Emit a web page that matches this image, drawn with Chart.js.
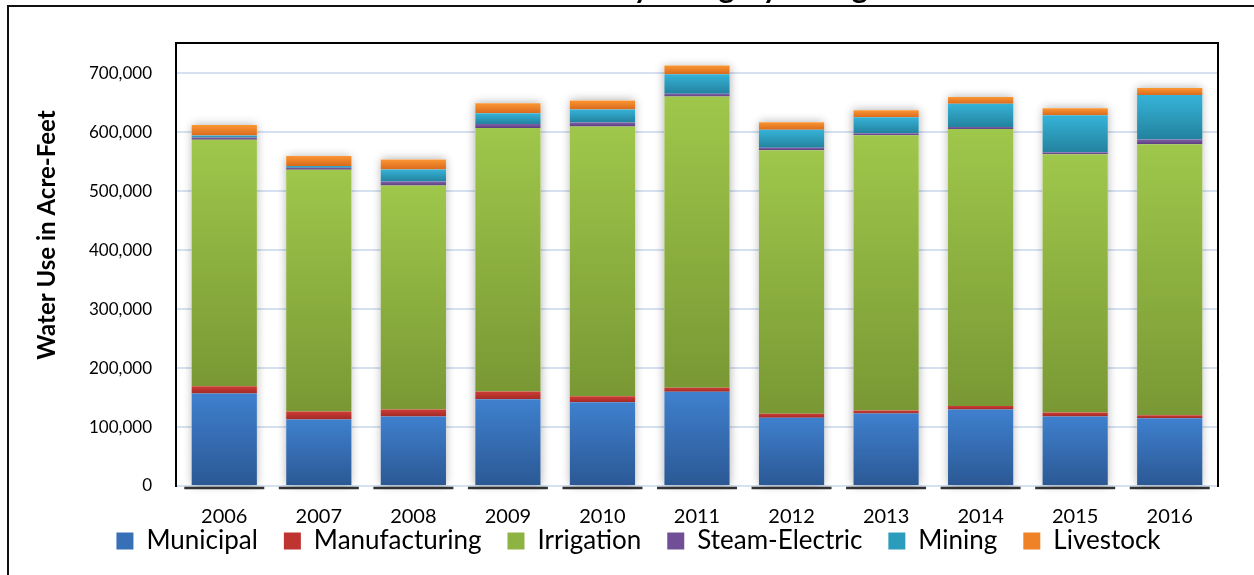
<!DOCTYPE html>
<html>
<head>
<meta charset="utf-8">
<title>Historical Water Use by Category</title>
<script src="https://cdn.jsdelivr.net/npm/chart.js@4.4.1/dist/chart.umd.min.js"></script>
<style>
  html, body { margin: 0; padding: 0; background: #fff; overflow: hidden; }
  #wrap { position: relative; width: 1254px; height: 575px; }
</style>
</head>
<body>
<div id="wrap"><canvas id="waterUse"></canvas></div>
<script>
// Water use by category, acre-feet per year
const years = ["2006", "2007", "2008", "2009", "2010", "2011", "2012", "2013", "2014", "2015", "2016"];
const municipal = [157000, 113000, 118000, 147000, 142000, 160000, 116000, 123000, 130000, 118000, 115000];
const manufacturing = [12400, 13600, 11900, 13500, 10200, 6800, 6800, 5100, 5600, 6800, 5100];
const irrigation = [418000, 410000, 380000, 447000, 458000, 494000, 447000, 467000, 470000, 438000, 460000];
const steamElectric = [4000, 3400, 6800, 6800, 6800, 4600, 4000, 3400, 3400, 3400, 8000];
const mining = [3500, 3000, 20400, 18000, 22000, 33300, 30500, 27000, 39500, 62800, 75200];
const livestock = [17500, 17000, 17000, 17000, 15300, 14800, 13000, 11900, 11400, 11900, 11900];

const yTicks = [0, 100000, 200000, 300000, 400000, 500000, 600000, 700000];
const yMax = 750000;

const chartTitle = "Historical Water Use by Category in Region";
const yTitle = "Water Use in Acre-Feet";

const FONT = "Lato, 'Open Sans', sans-serif";

// colors: [top of segment, bottom of segment, legend swatch]
const series = [
    { label: "Municipal", data: municipal, colors: ["#3f80ce", "#2b5894", "#3870b8"] },
    { label: "Manufacturing", data: manufacturing, colors: ["#d03c37", "#a02a26", "#bf3430"] },
    { label: "Irrigation", data: irrigation, colors: ["#9fc74b", "#799834", "#8db342"] },
    { label: "Steam-Electric", data: steamElectric, colors: ["#8060a8", "#5d3d80", "#704f96"] },
    { label: "Mining", data: mining, colors: ["#36b3d8", "#23829e", "#2c9cbd"] },
    { label: "Livestock", data: livestock, colors: ["#fb9632", "#d96a1d", "#ef8127"] },
];

// vertical gradient per stacked segment
function segmentFill(seriesIndex) {
    const colors = series[seriesIndex].colors;
    return function (context) {
        const chart = context.chart;
        const yScale = chart.scales.y;
        if (context.type !== "data" || !chart.chartArea || !yScale) {
            return colors[2];
        }
        const i = context.dataIndex;
        let base = 0;
        for (let s = 0; s < seriesIndex; s++) {
            base += series[s].data[i];
        }
        const top = base + series[seriesIndex].data[i];
        const g = chart.ctx.createLinearGradient(0, yScale.getPixelForValue(top), 0, yScale.getPixelForValue(base));
        g.addColorStop(0, colors[0]);
        g.addColorStop(1, colors[1]);
        return g;
    };
}

// soft shadow around each full stack, drawn under the bars
const barShadow = {
    id: "barShadow",
    beforeDatasetsDraw(chart) {
        const ctx = chart.ctx;
        const first = chart.getDatasetMeta(0).data;
        const last = chart.getDatasetMeta(series.length - 1).data;
        ctx.save();
        ctx.shadowColor = "rgba(0, 0, 0, 0.32)";
        ctx.shadowBlur = 9;
        ctx.fillStyle = "#fff";
        first.forEach((bar, i) => {
            const top = last[i].y;
            ctx.fillRect(bar.x - bar.width / 2, top, bar.width, bar.base - top);
        });
        ctx.restore();
    },
};

// legend sits tight under the year labels, overlapping the axis box
const legendLift = {
    id: "legendLift",
    afterLayout(chart) {
        chart.legend.top -= 28;
        chart.legend.bottom -= 28;
    },
};

// frames, cut-off title, rotated axis title, dark axis segments
const decorations = {
    id: "decorations",
    afterDraw(chart) {
        const ctx = chart.ctx;
        const area = chart.chartArea;
        const x = chart.scales.x;

        ctx.save();
        ctx.strokeStyle = "#111";
        ctx.lineWidth = 2;
        ctx.beginPath();
        ctx.moveTo(8, chart.height);
        ctx.lineTo(8, 6);
        ctx.lineTo(chart.width, 6);
        ctx.stroke();

        ctx.strokeStyle = "#000";
        ctx.beginPath();
        ctx.moveTo(area.left - 1, area.bottom + 1);
        ctx.lineTo(area.left - 1, area.top - 1);
        ctx.lineTo(area.right + 1, area.top - 1);
        ctx.lineTo(area.right + 1, area.bottom + 1);
        ctx.stroke();

        ctx.strokeStyle = "#333";
        ctx.lineWidth = 2.5;
        years.forEach((_, i) => {
            const cx = x.getPixelForValue(i);
            ctx.beginPath();
            ctx.moveTo(cx - 40, area.bottom + 2);
            ctx.lineTo(cx + 40, area.bottom + 2);
            ctx.stroke();
        });

        // chart title runs off the top edge; only its descenders show
        ctx.fillStyle = "#000";
        ctx.font = "bold 30px " + FONT;
        ctx.textAlign = "left";
        ctx.textBaseline = "alphabetic";
        const lead = ctx.measureText("Historical Water Use b").width;
        ctx.fillText(chartTitle, 634 - lead, -2);

        ctx.translate(47, 235);
        ctx.rotate(-Math.PI / 2);
        ctx.textAlign = "center";
        ctx.font = "bold 24px " + FONT;
        ctx.textBaseline = "middle";
        ctx.fillText(yTitle, 0, 0);
        ctx.restore();
    },
};

const ctx = document.getElementById("waterUse").getContext("2d");

new Chart(ctx, {
    type: "bar",
    data: {
        labels: years,
        datasets: series.map((s, i) => ({
            label: s.label,
            data: s.data,
            backgroundColor: segmentFill(i),
            borderWidth: 0,
            barPercentage: 0.69,
            categoryPercentage: 1,
        })),
    },
    options: {
        responsive: true,
        maintainAspectRatio: false,
        animation: false,
        layout: { padding: { left: 60, right: 37, top: 44, bottom: -17 } },
        plugins: {
            tooltip: { enabled: false },
            legend: {
                position: "bottom",
                labels: {
                    font: { family: FONT, size: 26 },
                    color: "#000",
                    boxWidth: 17,
                    boxHeight: 17,
                    padding: 26,
                    generateLabels: () => series.map((s, i) => ({
                        text: s.label,
                        fillStyle: s.colors[2],
                        strokeStyle: s.colors[2],
                        lineWidth: 0,
                        hidden: false,
                        datasetIndex: i,
                    })),
                },
            },
        },
        scales: {
            x: {
                stacked: true,
                grid: { display: false, drawTicks: false },
                border: { display: false },
                ticks: { font: { family: FONT, size: 20 }, color: "#000", padding: 19 },
                afterFit(scale) { scale.height = 44; },
            },
            y: {
                stacked: true,
                min: 0,
                max: yMax,
                grid: { color: "#d5e1f1", lineWidth: 2, drawTicks: false },
                border: { display: false },
                ticks: {
                    font: { family: FONT, size: 17 },
                    color: "#000",
                    padding: 25,
                    callback: (v) => v.toLocaleString("en-US"),
                },
                afterBuildTicks(scale) { scale.ticks = yTicks.map((v) => ({ value: v })); },
                afterFit(scale) { scale.width = 117; },
            },
        },
    },
    plugins: [barShadow, legendLift, decorations],
});
</script>
</body>
</html>
